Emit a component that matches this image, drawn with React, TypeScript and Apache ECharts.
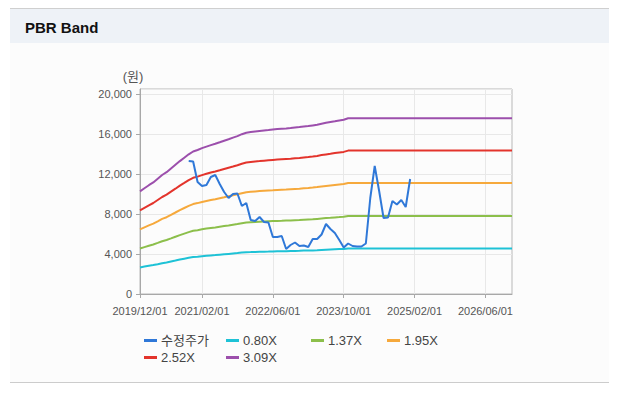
import React, { useEffect, useRef } from "react";
import * as echarts from "echarts";

// Monthly categories 2019/12 .. 2026/12
const categories: string[] = [
  "2019/12/01",
  "2020/01/01","2020/02/01","2020/03/01","2020/04/01","2020/05/01","2020/06/01","2020/07/01","2020/08/01","2020/09/01","2020/10/01","2020/11/01","2020/12/01",
  "2021/01/01","2021/02/01","2021/03/01","2021/04/01","2021/05/01","2021/06/01","2021/07/01","2021/08/01","2021/09/01","2021/10/01","2021/11/01","2021/12/01",
  "2022/01/01","2022/02/01","2022/03/01","2022/04/01","2022/05/01","2022/06/01","2022/07/01","2022/08/01","2022/09/01","2022/10/01","2022/11/01","2022/12/01",
  "2023/01/01","2023/02/01","2023/03/01","2023/04/01","2023/05/01","2023/06/01","2023/07/01","2023/08/01","2023/09/01","2023/10/01","2023/11/01","2023/12/01",
  "2024/01/01","2024/02/01","2024/03/01","2024/04/01","2024/05/01","2024/06/01","2024/07/01","2024/08/01","2024/09/01","2024/10/01","2024/11/01","2024/12/01",
  "2025/01/01","2025/02/01","2025/03/01","2025/04/01","2025/05/01","2025/06/01","2025/07/01","2025/08/01","2025/09/01","2025/10/01","2025/11/01","2025/12/01",
  "2026/01/01","2026/02/01","2026/03/01","2026/04/01","2026/05/01","2026/06/01","2026/07/01","2026/08/01","2026/09/01","2026/10/01","2026/11/01","2026/12/01",
];

const xTickLabels: string[] = ["2019/12/01", "2021/02/01", "2022/06/01", "2023/10/01", "2025/02/01", "2026/06/01"];

const seriesNames: string[] = ["수정주가", "0.80X", "1.37X", "1.95X", "2.52X", "3.09X"];
const seriesColors: string[] = ["#2f78d8", "#1ec2d6", "#8cbf4b", "#f6a93c", "#e3342c", "#9c4fac"];

const adjPrice: (number | null)[] = [
  null, null, null, null, null, null, null, null, null, null, null,
  13300, 13250, 11200, 10800, 10900, 11700, 11900, 11000, 10200, 9600,
  10000, 10050, 8800, 9100, 7400, 7300, 7700, 7200, 7150, 5700,
  5700, 5800, 4500, 4900, 5150, 4800, 4850, 4700, 5500, 5500,
  5950, 7000, 6500, 6100, 5400, 4650, 5050, 4800, 4750, 4750,
  5050, 9600, 12800, 10300, 7600, 7650, 9300, 8950, 9400, 8700,
  11500,
  null, null, null, null, null, null, null, null, null, null, null, null,
  null, null, null, null, null, null, null, null, null, null, null,
];

const band080: number[] = [
  2660, 2740, 2820, 2890, 2980, 3080, 3150, 3250, 3340, 3440, 3530, 3620, 3690,
  3730, 3780, 3820, 3860, 3890, 3930, 3970, 4010, 4050, 4090, 4140, 4180,
  4190, 4210, 4220, 4230, 4240, 4260, 4270, 4280, 4280, 4300, 4310, 4320,
  4340, 4350, 4360, 4380, 4410, 4430, 4450, 4470, 4490, 4510, 4550, 4550,
  4550, 4550, 4550, 4550, 4550, 4550, 4550, 4550, 4550, 4550, 4550, 4550,
  4550, 4550, 4550, 4550, 4550, 4550, 4550, 4550, 4550, 4550, 4550, 4550,
  4550, 4550, 4550, 4550, 4550, 4550, 4550, 4550, 4550, 4550, 4550, 4550,
];

const band137: number[] = [
  4550, 4690, 4820, 4950, 5110, 5280, 5400, 5560, 5730, 5890, 6040, 6190, 6320,
  6380, 6470, 6540, 6600, 6660, 6730, 6800, 6860, 6930, 7000, 7080, 7150,
  7180, 7210, 7230, 7250, 7270, 7290, 7310, 7320, 7340, 7360, 7380, 7400,
  7430, 7450, 7470, 7510, 7550, 7590, 7620, 7660, 7690, 7730, 7800, 7800,
  7800, 7800, 7800, 7800, 7800, 7800, 7800, 7800, 7800, 7800, 7800, 7800,
  7800, 7800, 7800, 7800, 7800, 7800, 7800, 7800, 7800, 7800, 7800, 7800,
  7800, 7800, 7800, 7800, 7800, 7800, 7800, 7800, 7800, 7800, 7800, 7800,
];

const band195: number[] = [
  6470, 6670, 6860, 7040, 7270, 7510, 7680, 7920, 8150, 8390, 8600, 8810, 8990,
  9090, 9200, 9300, 9400, 9480, 9580, 9670, 9770, 9870, 9970, 10080, 10180,
  10220, 10260, 10290, 10320, 10350, 10370, 10400, 10420, 10440, 10470, 10500, 10530,
  10570, 10600, 10640, 10690, 10750, 10800, 10850, 10900, 10950, 11000, 11100, 11100,
  11100, 11100, 11100, 11100, 11100, 11100, 11100, 11100, 11100, 11100, 11100, 11100,
  11100, 11100, 11100, 11100, 11100, 11100, 11100, 11100, 11100, 11100, 11100, 11100,
  11100, 11100, 11100, 11100, 11100, 11100, 11100, 11100, 11100, 11100, 11100, 11100,
];

const band252: number[] = [
  8370, 8620, 8870, 9100, 9400, 9700, 9930, 10230, 10530, 10840, 11110, 11390, 11620,
  11740, 11890, 12020, 12150, 12250, 12370, 12500, 12630, 12750, 12880, 13030, 13150,
  13210, 13260, 13290, 13330, 13370, 13410, 13440, 13470, 13500, 13530, 13570, 13610,
  13660, 13700, 13750, 13810, 13890, 13960, 14020, 14090, 14150, 14210, 14340, 14340,
  14340, 14340, 14340, 14340, 14340, 14340, 14340, 14340, 14340, 14340, 14340, 14340,
  14340, 14340, 14340, 14340, 14340, 14340, 14340, 14340, 14340, 14340, 14340, 14340,
  14340, 14340, 14340, 14340, 14340, 14340, 14340, 14340, 14340, 14340, 14340, 14340,
];

const band309: number[] = [
  10260, 10570, 10880, 11160, 11530, 11900, 12180, 12550, 12920, 13290, 13630, 13970, 14250,
  14400, 14590, 14740, 14890, 15020, 15170, 15330, 15480, 15640, 15790, 15980, 16130,
  16190, 16250, 16300, 16350, 16390, 16440, 16490, 16520, 16550, 16590, 16640, 16690,
  16750, 16790, 16860, 16930, 17030, 17120, 17200, 17270, 17350, 17430, 17580, 17580,
  17580, 17580, 17580, 17580, 17580, 17580, 17580, 17580, 17580, 17580, 17580, 17580,
  17580, 17580, 17580, 17580, 17580, 17580, 17580, 17580, 17580, 17580, 17580, 17580,
  17580, 17580, 17580, 17580, 17580, 17580, 17580, 17580, 17580, 17580, 17580, 17580,
];

const yTicks: number[] = [0, 4000, 8000, 12000, 16000, 20000];

export default function App() {
  const ref = useRef<HTMLDivElement>(null);
  useEffect(() => {
    if (!ref.current) return;
    const chart = echarts.init(ref.current, undefined, { renderer: "svg" });
    const allData = [adjPrice, band080, band137, band195, band252, band309];
    const showIdx = (i: number) => xTickLabels.includes(categories[i]);
    const legendPos = [
      { left: 144, top: 334 },
      { left: 226, top: 334 },
      { left: 311, top: 334 },
      { left: 387, top: 334 },
      { left: 144, top: 351 },
      { left: 226, top: 351 },
    ];
    const fontFam = "'Liberation Sans', 'Noto Sans CJK KR', sans-serif";
    chart.setOption({
      animation: false,
      backgroundColor: "#ffffff",
      graphic: [
        { type: "rect", shape: { x: 10, y: 8, width: 599, height: 374 }, style: { fill: "#fcfcfc" }, z: -10 },
        { type: "rect", shape: { x: 10, y: 9, width: 599, height: 34 }, style: { fill: "#eef2f7" }, z: -9 },
        { type: "line", shape: { x1: 10, y1: 8.5, x2: 609, y2: 8.5 }, style: { stroke: "#cfcfcf", lineWidth: 1 }, z: -8 },
        { type: "line", shape: { x1: 10, y1: 382.5, x2: 609, y2: 382.5 }, style: { stroke: "#cccccc", lineWidth: 1 }, z: -8 },
        {
          type: "text", x: 25, y: 27,
          style: { text: "PBR Band", fill: "#111111", font: "bold 15px 'Liberation Sans', sans-serif", textVerticalAlign: "middle" },
        },
        {
          type: "text", x: 133, y: 76,
          style: { text: "(원)", fill: "#555555", font: "13px " + fontFam, textAlign: "center", textVerticalAlign: "middle" },
        },
      ],
      legend: seriesNames.map((n, i) => ({
        data: [n],
        left: legendPos[i].left,
        top: legendPos[i].top,
        padding: 0,
        icon: "rect",
        itemWidth: 13,
        itemHeight: 3,
        itemGap: 4,
        selectedMode: false,
        textStyle: { fontSize: 13, color: "#444444", fontFamily: fontFam, padding: [0, 0, 0, -1] },
      })),
      grid: {
        left: 140, top: 89, width: 372, height: 205,
        show: true, borderColor: "#b8b8b8", borderWidth: 1, backgroundColor: "transparent",
      },
      xAxis: {
        type: "category",
        data: categories,
        boundaryGap: false,
        axisLine: { lineStyle: { color: "#a8a8a8" } },
        axisTick: { show: true, interval: (i: number) => showIdx(i), length: 4, lineStyle: { color: "#a8a8a8" } },
        axisLabel: { interval: (i: number) => showIdx(i), color: "#555555", fontSize: 11, fontFamily: fontFam, margin: 11 },
        splitLine: { show: true, interval: (i: number) => showIdx(i), lineStyle: { color: "#e8e8e8" } },
      },
      yAxis: {
        type: "value",
        min: yTicks[0],
        max: 20500,
        interval: 4000,
        axisLine: { show: true, lineStyle: { color: "#a8a8a8" } },
        axisTick: { show: true, length: 4, lineStyle: { color: "#a8a8a8" } },
        axisLabel: {
          color: "#555555", fontSize: 11, fontFamily: fontFam, margin: 8, showMaxLabel: false,
          formatter: (v: number) => v.toLocaleString("en-US"),
        },
        splitLine: { show: true, lineStyle: { color: "#e8e8e8" } },
      },
      series: seriesNames.map((n, i) => ({
        name: n,
        type: "line",
        data: allData[i],
        symbol: "none",
        z: i === 0 ? 5 : 3,
        lineStyle: { width: 2, color: seriesColors[i] },
        itemStyle: { color: seriesColors[i] },
      })),
    });
    return () => chart.dispose();
  }, []);
  return (
    <div
      ref={ref}
      style={{ position: "fixed", left: 0, top: 0, width: 617, height: 397 }}
    />
  );
}
